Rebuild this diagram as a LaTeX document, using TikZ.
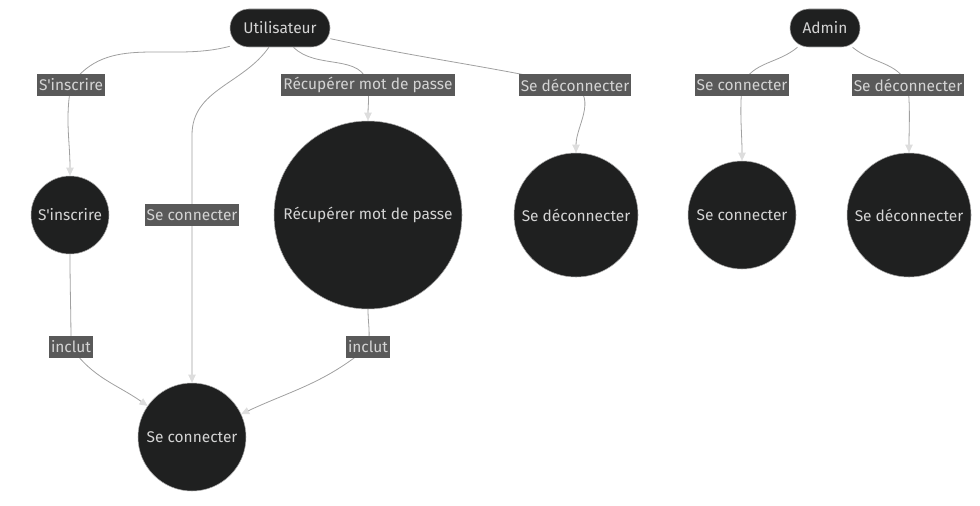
\documentclass[tikz,border=0pt]{standalone}
\usepackage{fontspec}
\setmainfont{Fira Sans}[Ligatures=TeXOff]
\usepackage{tikz}
\usetikzlibrary{positioning,arrows.meta}

\definecolor{fondnoeud}{HTML}{1F2020}
\definecolor{bordnoeud}{HTML}{A8A8A8}
\definecolor{texte}{HTML}{D4D4D4}
\definecolor{fondlabel}{HTML}{595959}
\definecolor{trait}{HTML}{A0A0A0}

\begin{document}
\begin{tikzpicture}[x=0.75pt,y=-0.75pt,>={Triangle[length=6pt,width=5.5pt,fill=texte!80!white,color=texte!80!white]}]
\tikzstyle{acteur} = [draw=bordnoeud, fill=fondnoeud, text=texte, rounded corners=14pt, minimum height=28.5pt, font=\fontsize{11.6}{13}\selectfont, inner sep=0pt]
\tikzstyle{cas} = [draw=bordnoeud, fill=fondnoeud, text=texte, circle, inner sep=0pt, font=\fontsize{11.6}{13}\selectfont]
\tikzstyle{etiq} = [fill=fondlabel, text=texte, inner xsep=1.5pt, inner ysep=0pt, minimum height=16.5pt, font=\fontsize{11.6}{13}\selectfont]
\tikzstyle{lien} = [draw=trait, line width=0.6pt]

\useasboundingbox (0,0) rectangle (980,506);

% acteurs
\node[acteur, minimum width=75pt] (U) at (280,28) {Utilisateur};
\node[acteur, minimum width=52.5pt] (A) at (825,28) {Admin};

% cas d'utilisation
\node[cas, minimum size=58.5pt] (ins) at (70,215) {S'inscrire};
\node[cas, minimum size=141pt] (rec) at (368,215) {Récupérer mot de passe};
\node[cas, minimum size=93pt] (dec1) at (576,215) {Se déconnecter};
\node[cas, minimum size=81pt] (con2) at (742,215) {Se connecter};
\node[cas, minimum size=93pt] (dec2) at (909,215) {Se déconnecter};
\node[cas, minimum size=81pt] (con1) at (192,437) {Se connecter};

% positions des etiquettes
\coordinate (e1) at (71,85);
\coordinate (e2h) at (192,135);
\coordinate (e2) at (192,215);
\coordinate (e3) at (368,85);
\coordinate (e4) at (575,85);
\coordinate (e5) at (742,85);
\coordinate (e6) at (908,85);
\coordinate (e7) at (71,347);
\coordinate (e8) at (368,347);

\draw[lien,->] (U.200) to[out=195,in=55] (e1) to[out=-100,in=90] (ins);
\draw[lien,->] (U.240) to[out=235,in=90] (e2h) -- (e2) -- (con1);
\draw[lien,->] (U.305) to[out=-45,in=100] (e3) to[out=-85,in=90] (rec);
\draw[lien,->] (U.348) to[out=-12,in=168] (e4) to[out=-35,in=90] (dec1);
\draw[lien,->] (A.215) to[out=-140,in=65] (e5) to[out=-95,in=90] (con2);
\draw[lien,->] (A.325) to[out=-40,in=115] (e6) to[out=-85,in=90] (dec2);
\draw[lien,->] (ins) to[out=-90,in=90] (e7) to[out=-55,in=145] (con1);
\draw[lien,->] (rec) to[out=-90,in=80] (e8) to[out=-140,in=25] (con1);

% etiquettes
\node[etiq] at (e1) {S'inscrire};
\node[etiq] at (e2) {Se connecter};
\node[etiq] at (e3) {Récupérer mot de passe};
\node[etiq] at (e4) {Se déconnecter};
\node[etiq] at (e5) {Se connecter};
\node[etiq] at (e6) {Se déconnecter};
\node[etiq] at (e7) {inclut};
\node[etiq] at (e8) {inclut};
\end{tikzpicture}
\end{document}
